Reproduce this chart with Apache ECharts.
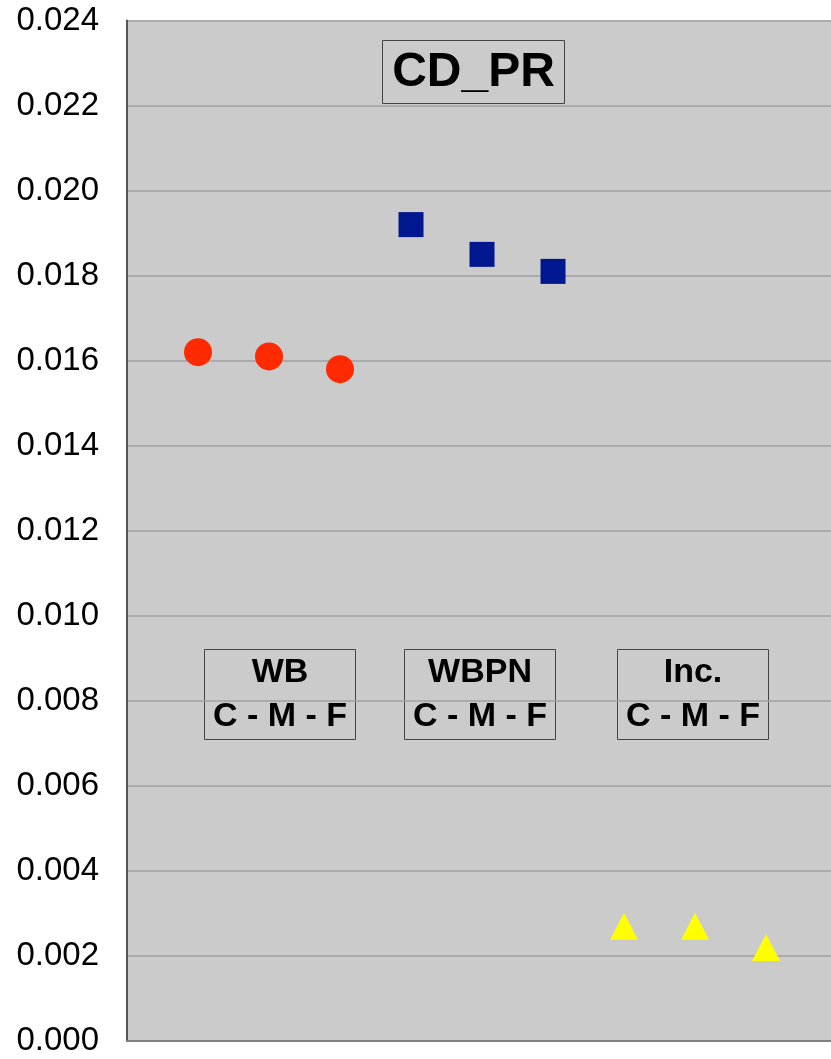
<!DOCTYPE html>
<html>
<head>
<meta charset="utf-8">
<script src="https://cdn.jsdelivr.net/npm/echarts@6/dist/echarts.min.js"></script>
<style>
html, body { margin: 0; padding: 0; background: #fff; }
#chart1 { width: 831px; height: 1059px; }
</style>
</head>
<body>
<div id="chart1"></div>
<script>
// y values, C - M - F for each group
var wbX = [1, 2, 3];
var wbValues = [0.0162, 0.0161, 0.0158];
var wbpnX = [4, 5, 6];
var wbpnValues = [0.0192, 0.0185, 0.0181];
var incX = [7, 8, 9];
var incValues = [0.0027, 0.0027, 0.0022];
var groupNames = ['WB', 'WBPN', 'Inc.'];

function pairs(xs, ys) {
    var out = [];
    for (var i = 0; i < xs.length; i++) {
        out.push([xs[i], ys[i]]);
    }
    return out;
}

var myChart1 = echarts.init(document.getElementById('chart1'));

var boxLeft = [204, 404, 617];
var boxFont = 'bold 34px "Liberation Sans", Arial, sans-serif';
var graphics = [
    { type: 'rect', shape: { x: 382.5, y: 40.5, width: 182, height: 63 }, style: { fill: 'none', stroke: '#444', lineWidth: 1 } },
    { type: 'text', x: 473.5, y: 73, style: { text: 'CD_PR', font: 'bold 48px "Liberation Sans", Arial, sans-serif', fill: '#000', align: 'center', verticalAlign: 'middle' } }
];
for (var i = 0; i < groupNames.length; i++) {
    graphics.push({ type: 'rect', shape: { x: boxLeft[i] + 0.5, y: 649.5, width: 151, height: 90 }, style: { fill: 'none', stroke: '#444', lineWidth: 1 } });
    graphics.push({ type: 'text', x: boxLeft[i] + 76, y: 673, style: { text: groupNames[i], font: boxFont, fill: '#000', align: 'center', verticalAlign: 'middle' } });
    graphics.push({ type: 'text', x: boxLeft[i] + 76, y: 717, style: { text: 'C - M - F', font: boxFont, fill: '#000', align: 'center', verticalAlign: 'middle' } });
}

var option = {
    animation: false,
    backgroundColor: '#fff',
    grid: {
        left: 127,
        top: 20.5,
        right: 0,
        height: 1020.5,
        show: true,
        backgroundColor: '#cbcbcb',
        borderWidth: 0
    },
    xAxis: {
        type: 'value',
        min: 0,
        max: 9.915,
        axisLine: { show: true, lineStyle: { color: '#808080', width: 2 } },
        axisTick: { show: false },
        axisLabel: { show: false },
        splitLine: { show: false }
    },
    yAxis: {
        type: 'value',
        min: 0,
        max: 0.024,
        interval: 0.002,
        axisLine: { show: true, onZero: false, lineStyle: { color: '#555', width: 2 } },
        axisTick: { show: false },
        axisLabel: {
            margin: 28,
            color: '#000',
            fontSize: 33,
            fontFamily: '"Liberation Sans", Arial, sans-serif',
            formatter: function (value) {
                return value.toFixed(3);
            }
        },
        splitLine: { show: true, lineStyle: { color: '#a0a0a0', width: 1.5 } }
    },
    series: [
        {
            name: 'WB',
            type: 'scatter',
            symbol: 'circle',
            symbolSize: 28,
            itemStyle: { color: '#ff2a00', opacity: 1 },
            data: pairs(wbX, wbValues)
        },
        {
            name: 'WBPN',
            type: 'scatter',
            symbol: 'rect',
            symbolSize: 25,
            itemStyle: { color: '#00178f', opacity: 1 },
            data: pairs(wbpnX, wbpnValues)
        },
        {
            name: 'Inc.',
            type: 'scatter',
            symbol: 'triangle',
            symbolSize: [28, 27],
            itemStyle: { color: '#ffff00', opacity: 1 },
            data: pairs(incX, incValues)
        }
    ],
    graphic: graphics
};
myChart1.setOption(option);
</script>
</body>
</html>
